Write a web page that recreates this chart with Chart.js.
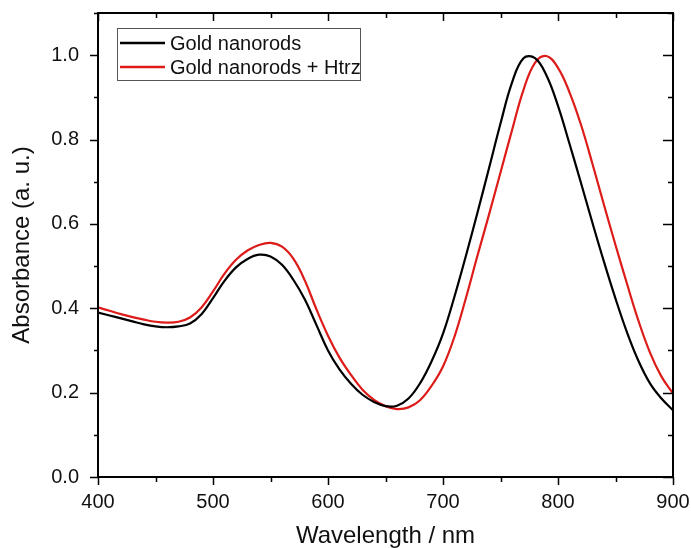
<!DOCTYPE html>
<html lang="en">
<head>
<meta charset="UTF-8">
<title>Absorbance spectra</title>
<script src="https://cdn.jsdelivr.net/npm/chart.js"></script>
<style>
  html, body { margin: 0; padding: 0; background: #fff; }
  #wrap { position: relative; width: 691px; height: 548px; }
</style>
</head>
<body>
<div id="wrap"><canvas id="absChart"></canvas></div>
<script>
// wavelength grid (nm)
const wavelengths = [400, 410, 420, 430, 440, 450, 460, 470, 480, 490,
                     500, 510, 520, 530, 540, 550, 560, 570, 580, 590,
                     600, 610, 620, 630, 640, 650, 660, 670, 680, 690,
                     700, 710, 720, 730, 740, 750, 760, 770, 780, 790,
                     800, 810, 820, 830, 840, 850, 860, 870, 880, 890, 900];

// Gold nanorods (black)
const absGold = [0.390, 0.383, 0.376, 0.369, 0.362, 0.357, 0.355, 0.357, 0.364, 0.386,
                 0.424, 0.465, 0.497, 0.517, 0.527, 0.523, 0.503, 0.467, 0.420, 0.360,
                 0.300, 0.255, 0.221, 0.195, 0.178, 0.168, 0.169, 0.186, 0.222, 0.274,
                 0.340, 0.428, 0.525, 0.627, 0.732, 0.838, 0.935, 0.993, 0.993, 0.952,
                 0.880, 0.790, 0.697, 0.602, 0.510, 0.423, 0.343, 0.275, 0.222, 0.186, 0.158];

// Gold nanorods + Htrz (red)
const absGoldHtrz = [0.402, 0.394, 0.386, 0.379, 0.373, 0.368, 0.366, 0.368, 0.378, 0.402,
                     0.440, 0.482, 0.515, 0.537, 0.550, 0.555, 0.546, 0.517, 0.465, 0.397,
                     0.335, 0.283, 0.242, 0.207, 0.183, 0.168, 0.161, 0.165, 0.182, 0.216,
                     0.262, 0.333, 0.425, 0.525, 0.622, 0.722, 0.822, 0.918, 0.982, 0.998,
                     0.970, 0.912, 0.835, 0.742, 0.645, 0.550, 0.458, 0.370, 0.295, 0.238, 0.198];

const seriesLabels = ['Gold nanorods', 'Gold nanorods + Htrz'];
const seriesColors = ['#000000', '#dd1c1a'];

const FONT = '"Liberation Sans", Arial, sans-serif';
const toPoints = (ys) => wavelengths.map((x, i) => ({ x: x, y: ys[i] }));

// ticks: major ones long, minor short; bottom/left point out, top/right point in
const frameTicks = {
  id: 'frameTicks',
  afterDraw(chart) {
    const ctx = chart.ctx;
    const { left, right, top, bottom } = chart.chartArea;
    const xs = chart.scales.x, ys = chart.scales.y;
    ctx.save();
    ctx.strokeStyle = '#000';
    ctx.lineWidth = 1.5;
    ctx.beginPath();
    xs.ticks.forEach(t => {
      const px = Math.round(xs.getPixelForValue(t.value)) + 0.5;
      const len = t.value % 100 === 0 ? 8 : 5;
      ctx.moveTo(px, bottom); ctx.lineTo(px, bottom + len);
      ctx.moveTo(px, top); ctx.lineTo(px, top + len);
    });
    ys.ticks.forEach(t => {
      const py = Math.round(ys.getPixelForValue(t.value)) + 0.5;
      const major = Math.round(t.value * 10) % 2 === 0;
      const len = major ? 8 : 4;
      ctx.moveTo(left, py); ctx.lineTo(left - len, py);
      ctx.moveTo(right, py); ctx.lineTo(right - (major ? 10 : 5), py);
    });
    ctx.stroke();
    // frame
    ctx.lineWidth = 2;
    ctx.strokeRect(left, top, right - left, bottom - top);
    ctx.restore();
  }
};

// boxed legend in the upper left of the plot
const boxLegend = {
  id: 'boxLegend',
  afterDraw(chart) {
    const ctx = chart.ctx;
    const { left, top } = chart.chartArea;
    const bx = left + 19, by = top + 15, bw = 243, bh = 52;
    ctx.save();
    ctx.fillStyle = '#fff';
    ctx.fillRect(bx, by, bw, bh);
    ctx.strokeStyle = '#555';
    ctx.lineWidth = 1;
    ctx.strokeRect(bx + 0.5, by + 0.5, bw, bh);
    ctx.font = '20px ' + FONT;
    ctx.textBaseline = 'middle';
    chart.data.datasets.forEach((ds, i) => {
      const ly = by + 15 + i * 24;
      ctx.strokeStyle = ds.borderColor;
      ctx.lineWidth = 2.5;
      ctx.beginPath();
      ctx.moveTo(bx + 3, ly); ctx.lineTo(bx + 48, ly);
      ctx.stroke();
      ctx.fillStyle = '#111';
      ctx.fillText(ds.label, bx + 53, ly + 1);
    });
    ctx.restore();
  }
};

new Chart(document.getElementById('absChart'), {
  type: 'line',
  data: {
    datasets: [
      { label: seriesLabels[0], data: toPoints(absGold), borderColor: seriesColors[0],
        borderWidth: 2.2, pointRadius: 0, tension: 0.4, fill: false },
      { label: seriesLabels[1], data: toPoints(absGoldHtrz), borderColor: seriesColors[1],
        borderWidth: 2.2, pointRadius: 0, tension: 0.4, fill: false }
    ]
  },
  options: {
    responsive: true,
    maintainAspectRatio: false,
    animation: false,
    layout: { padding: { top: 13, right: 18, left: 0, bottom: 0 } },
    plugins: { legend: { display: false }, tooltip: { enabled: false } },
    scales: {
      x: {
        type: 'linear', min: 400, max: 900,
        grid: { display: false },
        border: { display: false },
        ticks: {
          stepSize: 50, color: '#111', padding: 5,
          font: { family: FONT, size: 20 },
          maxRotation: 0, autoSkip: false,
          callback: (v) => (v % 100 === 0 ? String(v) : '')
        },
        title: { display: true, text: 'Wavelength / nm', color: '#111',
                 font: { family: FONT, size: 24, lineHeight: 1 }, padding: { top: 0, bottom: 0 } },
        afterFit: (s) => { s.height = 71; s.paddingLeft = 0; s.paddingRight = 0; }
      },
      y: {
        min: 0, max: 1.1,
        grid: { display: false },
        border: { display: false },
        ticks: {
          stepSize: 0.1, color: '#111', padding: 11,
          font: { family: FONT, size: 20 },
          autoSkip: false,
          callback: (v) => (Math.round(v * 10) % 2 === 0 && v < 1.05 ? v.toFixed(1) : '')
        },
        title: { display: true, text: 'Absorbance (a. u.)', color: '#111',
                 font: { family: FONT, size: 24, lineHeight: 1 }, padding: { top: 10, bottom: 0 } },
        afterFit: (s) => { s.width = 98; s.paddingTop = 0; s.paddingBottom = 0; }
      }
    }
  },
  plugins: [frameTicks, boxLegend]
});
</script>
</body>
</html>
